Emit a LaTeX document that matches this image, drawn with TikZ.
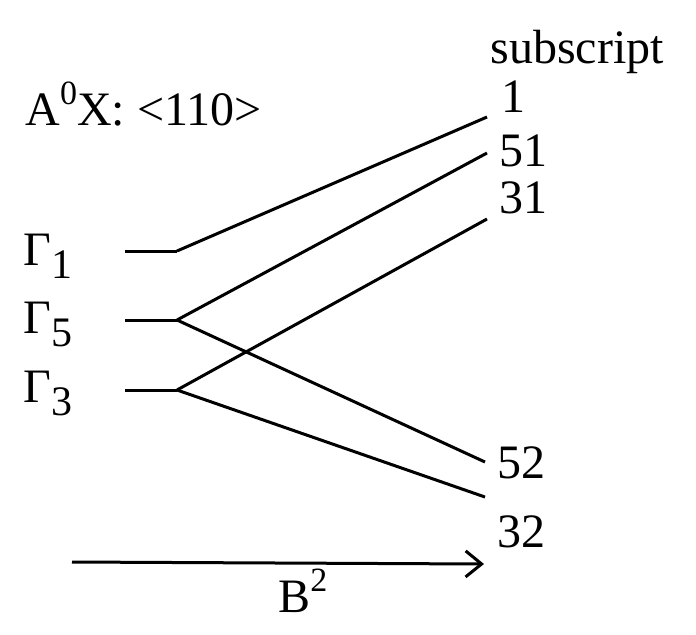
\documentclass[tikz,border=0pt]{standalone}
\usepackage{fontspec}
\setmainfont{Liberation Serif}
\usetikzlibrary{arrows.meta}

% raised / lowered digits as printed
\newcommand{\lowdig}[1]{\raisebox{-6.5pt}{\fontsize{21}{24}\selectfont #1}}
\newcommand{\highdig}[1]{\raisebox{10.5pt}{\fontsize{17}{19}\selectfont #1}}

\tikzset{
    level/.style={line width=1.5pt},
    txt/.style={anchor=base west, inner sep=0pt, font=\fontsize{24}{28}\selectfont}
}

\begin{document}
\begin{tikzpicture}[x=0.5pt, y=-0.5pt]
    \useasboundingbox (0,0) rectangle (696,634);

    % Headings
    \node[txt] (head) at (490,63) {subscript};
    \node[txt] (title) at (25,125) {A\highdig{0}X: <110>};

    % Zero-field levels
    \node[txt] (G1) at (23,265) {Γ\lowdig{1}};
    \node[txt] (G5) at (23,333) {Γ\lowdig{5}};
    \node[txt] (G3) at (23,402) {Γ\lowdig{3}};

    \coordinate (g1) at (125,251);  \coordinate (b1) at (177,251);
    \coordinate (g5) at (125,320);  \coordinate (b5) at (177,320);
    \coordinate (g3) at (125,390);  \coordinate (b3) at (177,390);

    \draw[level] (g1) -- (b1);
    \draw[level] (g5) -- (b5);
    \draw[level] (g3) -- (b3);

    % Split levels
    \coordinate (e1)  at (487,117);
    \coordinate (e51) at (487,153);
    \coordinate (e31) at (487,219);
    \coordinate (e52) at (485,462);
    \coordinate (e32) at (485,497);

    \node[txt] (s1)  at (501,112) {1};
    \node[txt] (s51) at (499,166) {51};
    \node[txt] (s31) at (499,213) {31};
    \node[txt] (s52) at (497,478) {52};
    \node[txt] (s32) at (497,547) {32};

    \draw[level] (b1) -- (e1);
    \draw[level] (b5) -- (e51);
    \draw[level] (b5) -- (e52);
    \draw[level] (b3) -- (e31);
    \draw[level] (b3) -- (e32);

    % Field axis
    \coordinate (a0) at (72,562);
    \coordinate (a1) at (484,564);
    \draw[level, -{Straight Barb[length=8pt, width=13pt, line width=1.5pt]}] (a0) -- (a1);
    \node[txt] (field) at (278,612) {B\highdig{2}};
\end{tikzpicture}
\end{document}
